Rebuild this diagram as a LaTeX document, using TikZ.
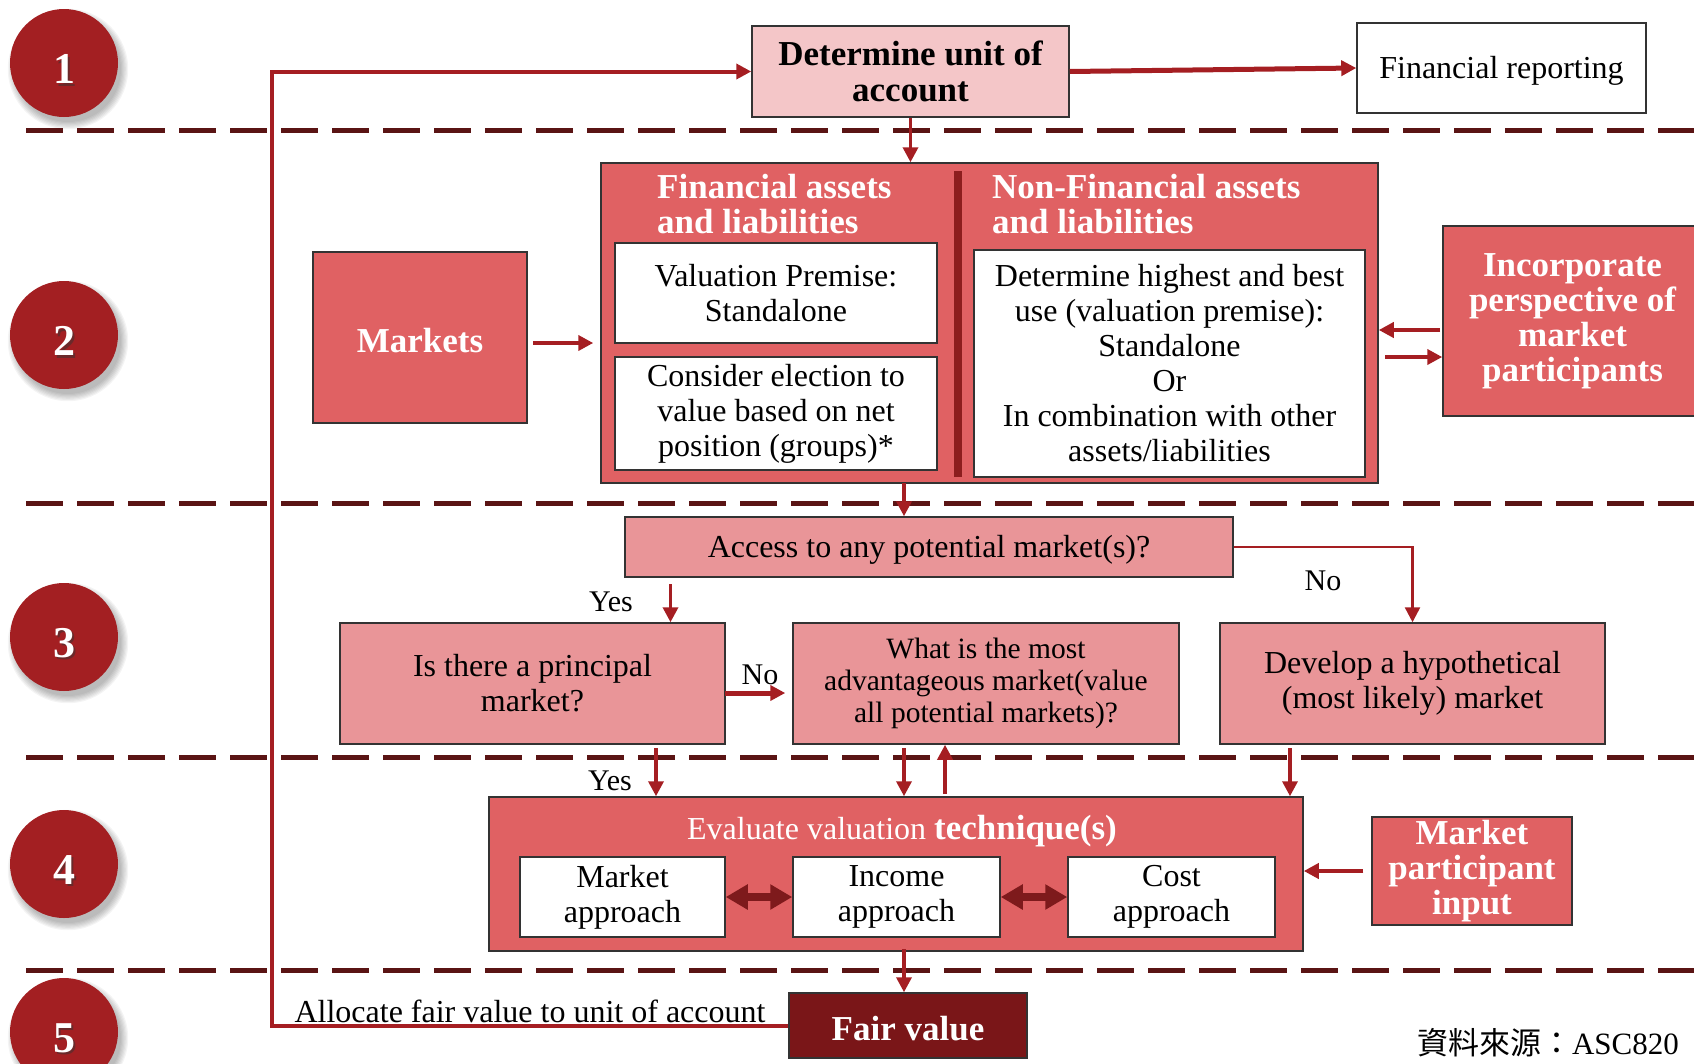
\documentclass[tikz,border=0pt]{standalone}
\usepackage{fontspec}
\setmainfont{Liberation Serif}
\newfontfamily\cjkfont{Noto Sans CJK TC}
\usetikzlibrary{arrows.meta,calc}

\definecolor{boxred}{HTML}{E06163}
\definecolor{boxpink}{HTML}{E99598}
\definecolor{boxlight}{HTML}{F4C6C8}
\definecolor{fvred}{HTML}{7A1618}
\definecolor{circred}{HTML}{A31F22}
\definecolor{arrred}{HTML}{A51E22}
\definecolor{dashred}{HTML}{5A1414}
\definecolor{barred}{HTML}{8C1E1E}
\definecolor{dblred}{HTML}{7E1A1C}
\definecolor{edge}{HTML}{333333}

\tikzset{
  reg/.style={font=\fontsize{32}{35}\selectfont},
  small/.style={font=\fontsize{29.5}{32}\selectfont},
  bold/.style={font=\fontsize{35}{35}\selectfont\bfseries},
  lab/.style={font=\fontsize{30}{30}\selectfont, inner sep=0pt},
  % the leading strut lowers the text block a little inside its box
  panel/.style 2 args={draw=edge, line width=1.5pt, minimum width=#1pt,
    minimum height=#2pt, inner sep=0pt, align=center,
    execute at begin node={\rule{0pt}{0.87em}}},
  arr/.style={draw=arrred, line width=3.5pt, -{Triangle[length=15pt,width=15pt]}},
  dbl/.style={draw=dblred, line width=8pt,
    {Triangle[length=22pt,width=24pt]}-{Triangle[length=22pt,width=24pt]}},
  dashline/.style={draw=dashred, line width=5pt, dash pattern=on 37pt off 14pt},
  circ/.style={circle, fill=circred, minimum size=108pt, inner sep=0pt},
  dig/.style={font=\fontsize{44}{44}\selectfont\bfseries, inner sep=0pt},
}

\begin{document}
\begin{tikzpicture}[x=1pt, y=-1pt]
\useasboundingbox (0,0) rectangle (1694,1063);
\clip (0,0) rectangle (1694,1063);

% stage separators
\foreach \dy in {130,503,757,970}
  \draw[dashline] (26,\dy) -- (1694,\dy);

% stage markers
\foreach \n/\cy in {1/63,2/335,3/637,4/864,5/1032} {
  \foreach \k in {0,...,6}
    \fill[black, opacity=0.045] (68,\cy+6) circle [radius={53pt+\k*1.2pt}];
  \node[circ] (c\n) at (64,\cy) {};
  \node[dig, text=black!80, opacity=0.5] (s\n) at (66.5,\cy+8.5) {\n};
  \node[dig, text=white] (t\n) at (64,\cy+6) {\n};
}

% stage 1
\node[panel={317}{91}, fill=boxlight, font=\fontsize{35}{36}\selectfont\bfseries] (det) at (910.5,71.5) {Determine unit of\\account};
\node[panel={289}{90}, fill=white, reg] (fr) at (1501.5,68) {Financial reporting};

% stage 2
\node[panel={777}{320}, fill=boxred] (ct) at (989.5,323) {};
\fill[barred] (954,171) rectangle (962,477);
\node[bold, text=white, align=left, anchor=west, inner sep=0pt] (h1) at (657,204) {Financial assets\\and liabilities};
\node[bold, text=white, align=left, anchor=west, inner sep=0pt] (h2) at (992,204) {Non-Financial assets\\and liabilities};
\node[panel={322}{100}, fill=white, reg] (vp) at (776,293) {Valuation Premise:\\Standalone};
\node[panel={322}{113}, fill=white, reg] (ce) at (776,413.5) {Consider election to\\value based on net\\position (groups)*};
\node[panel={391}{227}, fill=white, reg] (hb) at (1169.5,363.5) {Determine highest and best\\use (valuation premise):\\Standalone\\Or\\In combination with other\\assets/liabilities};
\node[panel={214}{171}, fill=boxred, bold, text=white] (mk) at (420,337.5) {Markets};
\node[panel={259}{190}, fill=boxred, bold, text=white] (ip) at (1572.5,321) {Incorporate\\perspective of\\market\\participants};

% stage 3
\node[panel={608}{60}, fill=boxpink, reg] (acc) at (929,547) {Access to any potential market(s)?};
\node[panel={385}{121}, fill=boxpink, reg] (pm) at (532.5,683.5) {Is there a principal\\market?};
\node[panel={386}{121}, fill=boxpink, small] (adv) at (986,683.5) {What is the most\\advantageous market(value\\all potential markets)?};
\node[panel={385}{121}, fill=boxpink, reg] (dev) at (1412.5,683.5) {Develop a hypothetical\\(most likely) market};

% stage 4
\node[panel={814}{154}, fill=boxred] (ev) at (896,874) {};
\node[reg, text=white, inner sep=0pt] (evt) at (902,831) {Evaluate valuation {\fontsize{35}{35}\selectfont\bfseries technique(s)}};
\node[panel={205}{80}, fill=white, reg] (ma) at (622.5,897) {Market\\approach};
\node[panel={207}{80}, fill=white, reg] (ia) at (896.5,897) {Income\\approach};
\node[panel={207}{80}, fill=white, reg] (ca) at (1171.5,897) {Cost\\approach};
\node[panel={200}{108}, fill=boxred, bold, text=white] (mpi) at (1472,871) {Market\\participant\\input};

% stage 5
\node[panel={238}{65}, fill=fvred, bold, text=white] (fv) at (908,1025.5) {Fair value};
\node[reg, inner sep=0pt] (alloc) at (530,1011) {Allocate fair value to unit of account};
\node[font=\fontsize{31}{31}\selectfont, inner sep=0pt] (src) at (1548,1043) {{\cjkfont 資料來源：}ASC820};

% branch labels
\node[lab] (ly1) at (611,602) {Yes};
\node[lab] (ly2) at (610,781) {Yes};
\node[lab] (ln1) at (1323,581) {No};
\node[lab] (ln2) at (760,675) {No};

% connectors
\draw[arr, line width=5pt] (det.east) -- (fr.west);
\coordinate (lp) at (272,500);
\draw[arr, line width=4pt] (fv.west) -| (lp) |- (det.west);
\draw[arr] (det.south) -- (det.south |- ct.north);

\coordinate (m1) at (533,343);
\draw[arr, line width=4pt] (m1) -- ([xshift=-7pt]m1 -| ct.west);
\coordinate (u1) at (1440,330);
\draw[arr, line width=4pt] (u1) -- (u1 -| ct.east);
\coordinate (u2) at (1385,357);
\draw[arr, line width=4pt] (u2) -- (u2 -| ip.west);

\coordinate (c1) at (904,483);
\draw[arr] (c1) -- (c1 |- acc.north);
\draw[arr, line width=2.5pt] (acc.east) -| (dev.north);
\coordinate (ys1) at (670.5,584);
\draw[arr] (ys1) -- (ys1 |- pm.north);
\coordinate (p1) at (725,693);
\draw[arr, line width=5pt] (p1) -- ([xshift=-7pt]p1 -| adv.west);

\coordinate (y2) at (656,748);
\draw[arr] (y2) -- (y2 |- ev.north);
\coordinate (a1) at (904,748);
\draw[arr] (a1) -- (a1 |- ev.north);
\coordinate (a2) at (945,794);
\draw[arr] (a2) -- (a2 |- adv.south);
\coordinate (d1) at (1290,748);
\draw[arr] (d1) -- (d1 |- ev.north);

\draw[dbl] (ma.east) -- (ia.west);
\draw[dbl] (ia.east) -- (ca.west);
\coordinate (q1) at ([xshift=-8pt]mpi.west);
\draw[arr, line width=4pt] (q1) -- (q1 -| ev.east);

\coordinate (e1) at (904,949);
\draw[arr] (e1) -- (e1 |- fv.north);
\end{tikzpicture}
\end{document}
